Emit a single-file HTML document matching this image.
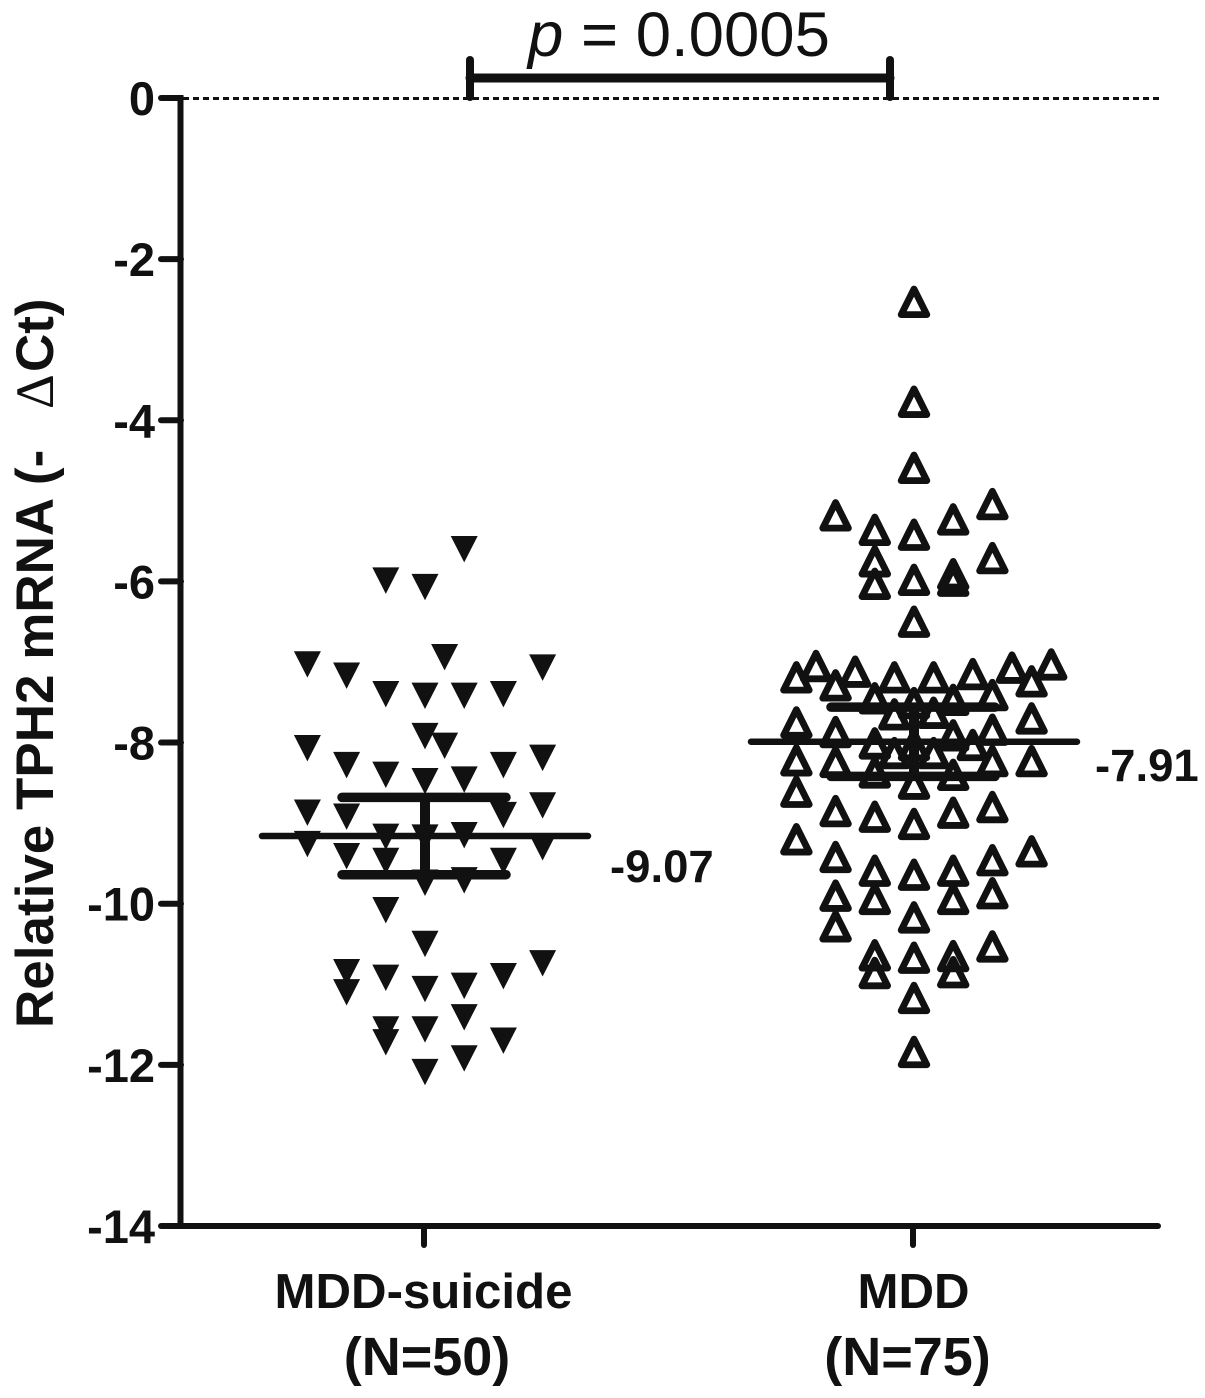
<!DOCTYPE html>
<html>
<head>
<meta charset="utf-8">
<title>Relative TPH2 mRNA</title>
<style>
html,body{margin:0;padding:0;background:#fff;width:1205px;height:1398px;overflow:hidden}
svg{display:block}
text{fill:#111;font-family:"Liberation Sans",sans-serif}
.b{font-weight:bold}
</style>
</head>
<body>
<svg id="chart" xmlns="http://www.w3.org/2000/svg" width="1205" height="1398" viewBox="0 0 1205 1398">
  <g id="grid"></g>
  <g id="marks"></g>
  <g id="stats"></g>
  <g id="axes"></g>
  <text class="b" font-size="53" transform="translate(53,1028) rotate(-90)"><tspan x="0">Relative TPH2 mRNA (-</tspan><tspan x="619" font-family="'Liberation Serif',serif" font-weight="normal" font-size="54">Δ</tspan><tspan x="656">Ct)</tspan></text>
  <g stroke="#111" fill="none" stroke-linecap="round">
    <line x1="470" y1="78" x2="890" y2="78" stroke-width="9"/>
    <line x1="470" y1="60" x2="470" y2="97" stroke-width="8"/>
    <line x1="890" y1="60" x2="890" y2="97" stroke-width="8"/>
  </g>
  <text x="528" y="56" font-size="63.5"><tspan font-style="italic">p</tspan> = 0.0005</text>
</svg>
<script>
const categories = ['MDD-suicide', 'MDD'];
const groupLabels = ['(N=50)', '(N=75)'];
const yTicks = [0, -2, -4, -6, -8, -10, -12, -14];
const printedMeans = ['-9.07', '-7.91'];

const suicideValues = [-5.60,-5.99,-6.07,-6.94,-7.03,-7.07,-7.17,-7.40,-7.42,-7.42,-7.40,-7.92,-8.04,-8.07,-8.28,-8.28,-8.19,-8.40,-8.48,-8.46,-8.78,-8.87,-8.92,-8.90,-9.17,-9.18,-9.15,-9.26,-9.30,-9.41,-9.47,-9.47,-9.74,-9.71,-10.08,-10.50,-10.85,-11.10,-10.92,-11.06,-11.02,-10.90,-10.74,-11.56,-11.72,-11.56,-11.41,-11.70,-11.92,-12.09];
const suicideSwarm = [1,-1,0,0.5,-3,3,-2,-1,0,1,2,0,0.5,-3,-2,2,3,-1,0,1,3,-3,-2,2,-1,0,1,-3,3,-2,-1,2,0,1,-1,0,-2,-2,-1,0,1,2,3,-1,-1,0,1,2,1,0];

const mddValues = [-2.53,-3.77,-4.59,-5.18,-5.36,-5.42,-5.23,-5.04,-5.71,-5.75,-6.03,-5.98,-5.91,-5.99,-6.50,-7.19,-7.05,-7.29,-7.12,-7.19,-7.19,-7.15,-7.07,-7.24,-7.03,-7.45,-7.51,-7.47,-7.41,-7.65,-7.63,-7.70,-7.75,-7.87,-7.84,-7.91,-8.01,-8.03,-8.13,-8.13,-8.22,-8.24,-8.23,-8.23,-8.37,-8.40,-8.51,-8.03,-8.61,-8.85,-8.92,-9.01,-8.87,-8.80,-9.20,-9.42,-9.59,-9.64,-9.59,-9.46,-9.35,-9.90,-9.94,-9.94,-9.87,-10.17,-10.28,-10.64,-10.67,-10.65,-10.53,-10.86,-10.85,-11.17,-11.84];
const mddSwarm = [0,0,0,-2,-1,0,1,2,2,-1,-1,0,1,1,0,-3,-2.5,-2,-1.5,-0.5,0.5,1.5,2.5,3,3.5,-1,0,1,2,-0.5,0.5,3,-3,-2,2,1,-1,1.5,-0.5,0.5,-3,-2,2,3,-1,1,0,0,-3,-2,-1,0,1,2,-3,-2,-1,0,1,2,3,-2,-1,1,2,0,-2,-1,0,1,2,-1,1,0,0];

const meanValues = [-9.16, -7.99];
const semUpper = [-8.68, -7.56];
const semLower = [-9.64, -8.42];

const NS = 'http://www.w3.org/2000/svg';
const plotTop = 98, pxPerUnit = 80.57;
const catCenter = [425, 914], swarmStep = 39.2;
function yScale(v){ return plotTop - v * pxPerUnit; }
function xScale(cat, off){ return catCenter[cat] + off * swarmStep; }
function mk(parent, tag, attrs){
  const el = document.createElementNS(NS, tag);
  for (const k in attrs) el.setAttribute(k, attrs[k]);
  parent.appendChild(el);
  return el;
}
const gGrid = document.getElementById('grid');
const gMarks = document.getElementById('marks');
const gStats = document.getElementById('stats');
const gAxes = document.getElementById('axes');

/* zero reference line */
const zeroLine = mk(gGrid, 'line', {x1:183, y1:yScale(0)+0.5, x2:1160, y2:yScale(0)+0.5, stroke:'#111', 'stroke-width':3, 'stroke-dasharray':'6 4'});



/* filled down triangles */
suicideValues.forEach(function(v, i){
  const cx = xScale(0, suicideSwarm[i]), cy = yScale(v);
  const p = mk(gMarks, 'polygon', {points:(cx-13.5)+','+(cy-13.2)+' '+(cx+13.5)+','+(cy-13.2)+' '+cx+','+(cy+13.2), fill:'#111'});
  
  
});
/* open up triangles */
mddValues.forEach(function(v, i){
  const cx = xScale(1, mddSwarm[i]), cy = yScale(v);
  const p = mk(gMarks, 'polygon', {points:(cx-12.8)+','+(cy+12.8)+' '+(cx+12.8)+','+(cy+12.8)+' '+cx+','+(cy-12.8), fill:'none', stroke:'#111', 'stroke-width':6.8, 'stroke-linejoin':'round'});
  
  
});

/* mean and SEM bars */
categories.forEach(function(c, i){
  const cx = catCenter[i];
  const mean = mk(gStats, 'line', {x1:cx-163, x2:cx+163, y1:yScale(meanValues[i]), y2:yScale(meanValues[i]), stroke:'#111', 'stroke-width':6.5, 'stroke-linecap':'round'});
  
  
  const up = mk(gStats, 'line', {x1:cx-83, x2:cx+81, y1:yScale(semUpper[i]), y2:yScale(semUpper[i]), stroke:'#111', 'stroke-width':9.5, 'stroke-linecap':'round'});
  
  
  const lo = mk(gStats, 'line', {x1:cx-83, x2:cx+81, y1:yScale(semLower[i]), y2:yScale(semLower[i]), stroke:'#111', 'stroke-width':9.5, 'stroke-linecap':'round'});
  
  
  const st = mk(gStats, 'line', {x1:cx, x2:cx, y1:yScale(semUpper[i]), y2:yScale(semLower[i]), stroke:'#111', 'stroke-width':10});
  
  
  const lab = mk(gStats, 'text', {x:cx+185 + (i===1?-4:0), y:yScale(meanValues[i])+ (i===0?46:39), 'font-size':45.5, 'font-weight':'bold'});
  lab.textContent = printedMeans[i];
  
  
});

/* axes */
const yAxis = mk(gAxes, 'line', {x1:180.5, x2:180.5, y1:yScale(0)-3, y2:yScale(-14)+3, stroke:'#111', 'stroke-width':6});


const xAxis = mk(gAxes, 'line', {x1:178, x2:1158, y1:yScale(-14), y2:yScale(-14), stroke:'#111', 'stroke-width':6, 'stroke-linecap':'round'});


yTicks.forEach(function(t){
  const y = yScale(t);
  const tick = mk(gAxes, 'line', {x1:161, x2:181, y1:y, y2:y, stroke:'#111', 'stroke-width':6, 'stroke-linecap':'round'});
  
  
  const lab = mk(gAxes, 'text', {x:155, y:y+17, 'text-anchor':'end', 'font-size':47, 'font-weight':'bold'});
  lab.textContent = String(t);
  
  
});
categories.forEach(function(c, i){
  const cx = catCenter[i];
  const tick = mk(gAxes, 'line', {x1:cx-1, x2:cx-1, y1:yScale(-14), y2:1245, stroke:'#111', 'stroke-width':6, 'stroke-linecap':'round'});
  
  
  const lab = mk(gAxes, 'text', {x:i===0?423.5:913.5, y:1308, 'text-anchor':'middle', 'font-size':49.2, 'font-weight':'bold'});
  lab.textContent = c;
  
  
  const sub = mk(gAxes, 'text', {x:i===0?427:907.5, y:1375, 'text-anchor':'middle', 'font-size':54, 'font-weight':'bold'});
  sub.textContent = groupLabels[i];
  
  
});
</script>
</body>
</html>
